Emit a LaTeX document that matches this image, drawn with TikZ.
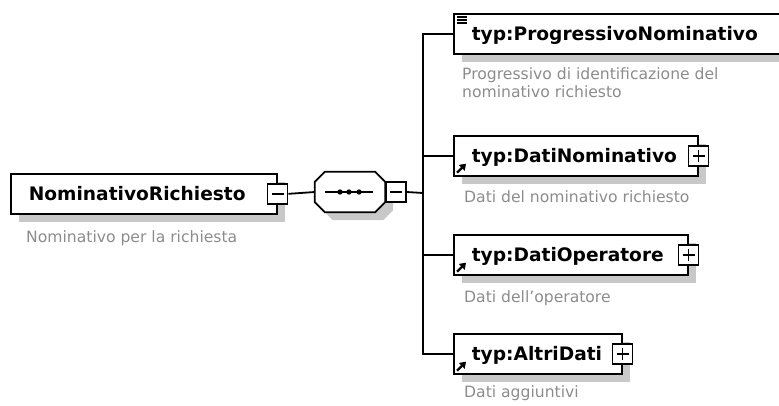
\documentclass[tikz,border=0pt]{standalone}
\usepackage{fontspec}
\setmainfont{DejaVu Sans}
\usepackage{xcolor}
\usetikzlibrary{shadows}
\usetikzlibrary{arrows.meta}

\definecolor{shadowgray}{RGB}{200,200,200}
\definecolor{descgray}{RGB}{140,140,140}
\newcommand{\namefont}{\fontsize{18.6}{22}\selectfont\bfseries}
\newcommand{\descfont}{\fontsize{15.6}{18}\selectfont}
\newcommand{\seqoutline}{([xshift=10pt]seq.north west) -- ([xshift=-10pt]seq.north east)
    -- ([yshift=-10pt]seq.north east) -- ([yshift=10pt]seq.south east)
    -- ([xshift=-10pt]seq.south east) -- ([xshift=10pt]seq.south west)
    -- ([yshift=10pt]seq.south west) -- ([yshift=-10pt]seq.north west) -- cycle}

\begin{document}
\begin{tikzpicture}[x=1pt, y=-1pt,
    elem/.style={draw, fill=white, line width=1.7pt, minimum height=40pt, inner xsep=18pt,
        align=left, text height=14pt, text depth=0pt, font=\namefont, anchor=north west,
        general shadow={fill=shadowgray, shadow xshift=8pt, shadow yshift=-8pt}},
    desc/.style={font=\descfont, text=descgray, inner sep=0pt, anchor=base west, align=left},
    btn/.style={draw, fill=white, line width=1.4pt, minimum size=20pt, inner sep=0pt},
    minusbtn/.style={btn, path picture={\draw[line width=1.5pt]
        ([xshift=4pt]path picture bounding box.west) -- ([xshift=-4pt]path picture bounding box.east);}},
    plusbtn/.style={btn, path picture={\draw[line width=1.5pt]
        ([xshift=4pt]path picture bounding box.west) -- ([xshift=-4pt]path picture bounding box.east)
        ([yshift=4pt]path picture bounding box.south) -- ([yshift=-4pt]path picture bounding box.north);}},
    conn/.style={line width=1.8pt}
]
    \useasboundingbox (0,0) rectangle (779,406);

    % Root element
    \node[elem, text width=230pt] (root) at (10,173) {NominativoRichiesto};
    \node[minusbtn] (rootbtn) at (root.east) {};
    \node[desc] (rootdesc) at (26,242) {Nominativo per la richiesta};

    % Sequence
    \node[minimum width=70pt, minimum height=40pt, inner sep=0pt] (seq) at (350,192) {};
    \fill[shadowgray, transform canvas={shift={(8pt,-8pt)}}] \seqoutline;
    \draw[fill=white, line width=1.7pt] \seqoutline;
    \node[minusbtn, anchor=west] (seqbtn) at (seq.east) {};
    \draw[line width=1.5pt] ([xshift=-25pt]seq.center) -- ([xshift=23pt]seq.center);
    \foreach \dx in {-10,-1,9}
        \fill ([xshift=\dx pt]seq.center) circle (2.7pt);

    % Children
    \node[elem, text width=296pt] (prog) at (453,13) {typ:ProgressivoNominativo};
    \node[desc, anchor=north west] (progdesc) at (462,67) {Progressivo di identificazione del\\nominativo richiesto};

    \node[elem, text width=208pt] (dnom) at (453,135) {typ:DatiNominativo};
    \node[plusbtn] (dnombtn) at (dnom.east) {};
    \node[desc] (dnomdesc) at (464,203) {Dati del nominativo richiesto};

    \node[elem, text width=198pt] (dop) at (453,234) {typ:DatiOperatore};
    \node[plusbtn] (dopbtn) at (dop.east) {};
    \node[desc] (dopdesc) at (464,302) {Dati dell'operatore};

    \node[elem, text width=132pt] (altri) at (453,333) {typ:AltriDati};
    \node[plusbtn] (altribtn) at (altri.east) {};
    \node[desc] (altridesc) at (464,397) {Dati aggiuntivi};

    % Simple type mark
    \foreach \dy in {4,7,10}
        \draw[line width=1.3pt] ([shift={(4pt,-\dy pt)}]prog.north west) -- ++(10,0);

    % Reference arrows
    \foreach \el in {dnom,dop,altri}
        \draw[line width=2.4pt, -{Triangle[length=6pt,width=8pt]}] ([shift={(4pt,4pt)}]\el.south west) -- ++(9,-9);

    % Connectors
    \coordinate (bus) at (423,193);
    \draw[conn] (rootbtn.east) -- (seq.west);
    \draw[conn] (seqbtn.east) -- (bus);
    \draw[conn] (prog.west) -| (bus) |- (altri.west);
    \draw[conn] (bus |- dnom.west) -- (dnom.west);
    \draw[conn] (bus |- dop.west) -- (dop.west);
\end{tikzpicture}
\end{document}
